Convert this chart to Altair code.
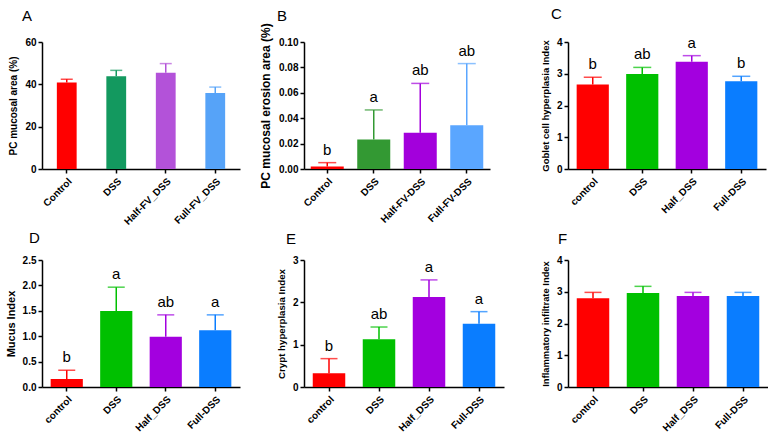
import altair as alt
import pandas as pd

# ---- data ----
cats_A = ["Control", "DSS", "Half-FV_DSS", "Full-FV_DSS"]
mean_A = [40.9, 43.8, 45.5, 35.9]
upper_A = [42.4, 46.6, 49.8, 38.7]
letters_A = ["", "", "", ""]
colors_A = ["#FF0000", "#13995F", "#B352D9", "#56A3F8"]

cats_B = ["Control", "DSS", "Half-FV-DSS", "Full-FV-DSS"]
mean_B = [0.002, 0.0232, 0.0285, 0.0345]
upper_B = [0.005, 0.0465, 0.0674, 0.083]
letters_B = ["b", "a", "ab", "ab"]
colors_B = ["#FF0000", "#339933", "#A300DC", "#5AA6FF"]

cats_2 = ["control", "DSS", "Half_DSS", "Full-DSS"]
colors_2 = ["#FF0000", "#00C000", "#A300DF", "#0A7DFF"]

mean_C = [2.66, 2.99, 3.38, 2.76]
upper_C = [2.89, 3.20, 3.57, 2.92]
letters_C = ["b", "ab", "a", "b"]

mean_D = [0.157, 1.495, 0.99, 1.116]
upper_D = [0.33, 1.965, 1.42, 1.42]
letters_D = ["b", "a", "ab", "a"]

mean_E = [0.323, 1.126, 2.126, 1.496]
upper_E = [0.67, 1.417, 2.53, 1.78]
letters_E = ["b", "ab", "a", "a"]

mean_F = [2.795, 2.96, 2.87, 2.87]
upper_F = [2.98, 3.17, 2.98, 2.98]
letters_F = ["", "", "", ""]

FONT = "Liberation Sans"


def panel(tag, cats, means, uppers, letters, colors, yticks, fmt, ytitle,
          w, h, pad, cap, tx, ty, tsize):
    df = pd.DataFrame({"cat": cats, "mean": means, "upper": uppers,
                       "letter": letters})
    xscale = alt.Scale(paddingInner=pad, paddingOuter=pad / 2)
    xax = alt.Axis(title=None, labelAngle=-45, labelAlign="right",
                   labelBaseline="top", labelPadding=3, tickSize=4,
                   labelOverlap=False)
    x = alt.X("cat:N", sort=cats, scale=xscale, axis=xax)
    yscale = alt.Scale(domain=[yticks[0], yticks[-1]], nice=False)
    yax = alt.Axis(title=ytitle, values=yticks, format=fmt, tickSize=4,
                   titlePadding=6, labelOverlap=False, labelFlush=False,
                   titleFontSize=tsize)
    color = alt.Color("cat:N", scale=alt.Scale(domain=cats, range=colors),
                      legend=None)
    bars = alt.Chart(df).mark_bar().encode(
        x=x, color=color, y=alt.Y("mean:Q", scale=yscale, axis=yax))
    rule = alt.Chart(df).mark_rule(strokeWidth=1.5).encode(
        x=x, color=color, y=alt.Y("mean:Q", scale=yscale, axis=yax),
        y2="upper:Q")
    capm = alt.Chart(df).mark_tick(size=cap, thickness=1.5,
                                   orient="horizontal").encode(
        x=x, color=color, y=alt.Y("upper:Q", scale=yscale, axis=yax))
    text = alt.Chart(df).mark_text(dy=-5, baseline="bottom", fontSize=15,
                                   font=FONT, color="black").encode(
        x=x, y=alt.Y("upper:Q", scale=yscale, axis=yax), text="letter:N")
    label = alt.Chart(pd.DataFrame({"tag": [tag]})).mark_text(
        align="left", baseline="alphabetic", fontSize=15, font=FONT,
        color="black").encode(x=alt.value(tx), y=alt.value(ty),
                              text="tag:N")
    return alt.layer(bars, rule, capm, text, label).properties(
        width=w, height=h)


A = panel("A", cats_A, mean_A, upper_A, letters_A, colors_A,
          [0, 20, 40, 60], "d", "PC mucosal area (%)", 198, 127, 0.6, 12,
          -20, -21, 10)
B = panel("B", cats_B, mean_B, upper_B, letters_B, colors_B,
          [0, 0.02, 0.04, 0.06, 0.08, 0.10], ".2f",
          "PC mucosal erosion area (%)", 186, 127, 0.29, 18, -27, -21, 12)
C = panel("C", cats_2, mean_C, upper_C, letters_C, colors_2,
          [0, 1, 2, 3, 4], "d", "Goblet cell hyperplasia Index",
          198, 127, 0.35, 18, -17, -23, 9.5)
D = panel("D", cats_2, mean_D, upper_D, letters_D, colors_2,
          [0, 0.5, 1.0, 1.5, 2.0, 2.5], ".1f", "Mucus Index",
          198, 127, 0.35, 17, -13, -17, 11)
E = panel("E", cats_2, mean_E, upper_E, letters_E, colors_2,
          [0, 1, 2, 3], "d", "Crypt hyperplasia Index",
          200, 127, 0.35, 17, -18, -16, 9.7)
F = panel("F", cats_2, mean_F, upper_F, letters_F, colors_2,
          [0, 1, 2, 3, 4], "d", "Inflammatory infiltrate Index",
          200, 127, 0.35, 17, -10, -16, 9.4)

chart = alt.concat(
    A, B, C, D, E, F, columns=3, spacing={"row": 91, "column": 64},
    bounds="flush"
).resolve_scale(
    x="independent", y="independent", color="independent"
).properties(
    padding={"left": 5, "top": 7, "right": 0, "bottom": 0}
).configure_view(stroke=None).configure_axis(
    grid=False, domainColor="black", domainWidth=1.5, tickColor="black",
    tickWidth=1.5, labelFont=FONT, labelFontWeight="bold", labelFontSize=10,
    labelColor="black", titleFont=FONT, titleFontWeight="bold",
    titleFontSize=10, titleColor="black", labelOverlap=False
)

chart.save("out.html", embed_options={"renderer": "svg", "actions": False})
